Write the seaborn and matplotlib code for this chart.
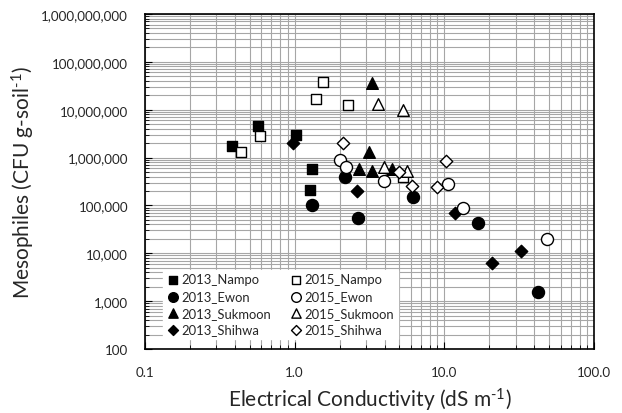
import numpy as np
import pandas as pd
import matplotlib
matplotlib.use("Agg")
import matplotlib.pyplot as plt
import matplotlib.ticker as mticker
import seaborn as sns

# ---- data ----
nampo13_x = [0.38, 0.57, 1.02, 1.30, 1.26]
nampo13_y = [1.75e6, 4.6e6, 2.94e6, 5.7e5, 2.08e5]
ewon13_x = [1.31, 2.18, 2.64, 6.15, 16.9, 42.2]
ewon13_y = [1.01e5, 3.85e5, 5.4e4, 1.47e5, 4.27e4, 1.53e3]
sukmoon13_x = [2.71, 3.13, 3.30, 3.30, 4.48]
sukmoon13_y = [5.9e5, 1.31e6, 3.69e7, 5.3e5, 5.7e5]
shihwa13_x = [0.97, 2.60, 11.7, 20.8, 32.7]
shihwa13_y = [2.0e6, 1.96e5, 7.1e4, 6.2e3, 1.13e4]

nampo15_x = [0.44, 0.59, 1.39, 1.55, 2.28, 5.27]
nampo15_y = [1.31e6, 2.84e6, 1.71e7, 3.75e7, 1.24e7, 3.9e5]
ewon15_x = [2.0, 2.19, 3.94, 10.6, 13.4, 48.8]
ewon15_y = [8.8e5, 6.4e5, 3.17e5, 2.79e5, 8.8e4, 1.98e4]
sukmoon15_x = [3.59, 3.98, 5.33, 5.63]
sukmoon15_y = [1.30e7, 6.2e5, 9.9e6, 5.2e5]
shihwa15_x = [2.10, 4.96, 6.05, 8.94, 10.2]
shihwa15_y = [2.0e6, 5.0e5, 2.6e5, 2.38e5, 8.5e5]

x_ticks = [0.1, 1, 10, 100]
x_tick_labels = ["0.1", "1.0", "10.0", "100.0"]
y_ticks = [1e2, 1e3, 1e4, 1e5, 1e6, 1e7, 1e8, 1e9]

series = [
    ("2013_Nampo", nampo13_x, nampo13_y, "s", True),
    ("2013_Ewon", ewon13_x, ewon13_y, "o", True),
    ("2013_Sukmoon", sukmoon13_x, sukmoon13_y, "^", True),
    ("2013_Shihwa", shihwa13_x, shihwa13_y, "D", True),
    ("2015_Nampo", nampo15_x, nampo15_y, "s", False),
    ("2015_Ewon", ewon15_x, ewon15_y, "o", False),
    ("2015_Sukmoon", sukmoon15_x, sukmoon15_y, "^", False),
    ("2015_Shihwa", shihwa15_x, shihwa15_y, "D", False),
]

sns.set_theme(style="white")
plt.rcParams["font.family"] = ["Lato", "DejaVu Sans"]
plt.rcParams["mathtext.fontset"] = "custom"
plt.rcParams["mathtext.rm"] = "Lato"
plt.rcParams["mathtext.it"] = "Lato"

fig = plt.figure(figsize=(6.22, 4.14), dpi=100)
ax = fig.add_axes([0.233, 0.1546, 0.722, 0.8092])

sizes = {"s": 60, "o": 75, "^": 70, "D": 40}
for name, xs, ys, mk, filled in series:
    df = pd.DataFrame({"x": xs, "y": ys})
    sns.scatterplot(data=df, x="x", y="y", ax=ax, marker=mk, s=sizes[mk],
                    color="black" if filled else "white",
                    edgecolor="black", linewidth=1.0, label=name, zorder=3)

ax.set_xscale("log")
ax.set_yscale("log")
ax.set_xlim(0.1, 100)
ax.set_ylim(100, 1e9)

ax.set_xticks(x_ticks)
ax.set_xticklabels(x_tick_labels)
ax.set_yticks(y_ticks)
ax.yaxis.set_major_formatter(mticker.FuncFormatter(lambda v, p: f"{int(round(v)):,}"))
ax.xaxis.set_minor_locator(mticker.LogLocator(base=10, subs=np.arange(2, 10)))
ax.yaxis.set_minor_locator(mticker.LogLocator(base=10, subs=np.arange(2, 10)))
ax.xaxis.set_minor_formatter(mticker.NullFormatter())
ax.yaxis.set_minor_formatter(mticker.NullFormatter())

ax.grid(True, which="both", color="#a6a6a6", linewidth=0.8, zorder=0)
ax.set_axisbelow(True)
ax.tick_params(which="both", direction="in", left=True, bottom=True, color="black")
ax.tick_params(which="major", length=5, width=0.8, labelsize=9.6, pad=12)
ax.tick_params(which="minor", length=3, width=0.6)
for sp in ax.spines.values():
    sp.set_color("black")
    sp.set_linewidth(1.2)

ax.set_xlabel("Electrical Conductivity (dS m$^{\\text{-1}}$)", fontsize=15, labelpad=6)
ax.set_ylabel("Mesophiles (CFU g-soil$^{\\text{-1}}$)", fontsize=15, labelpad=3)

leg = ax.legend(ncol=2, loc="lower left", bbox_to_anchor=(0.025, 0.01),
                fontsize=9.4, frameon=True, framealpha=1, edgecolor="white",
                facecolor="white", handletextpad=0.15, columnspacing=1.4,
                labelspacing=0.35, borderpad=0.3, markerscale=0.8, fancybox=False,
                handlelength=1.0)

fig.savefig("out.png", dpi=100)
